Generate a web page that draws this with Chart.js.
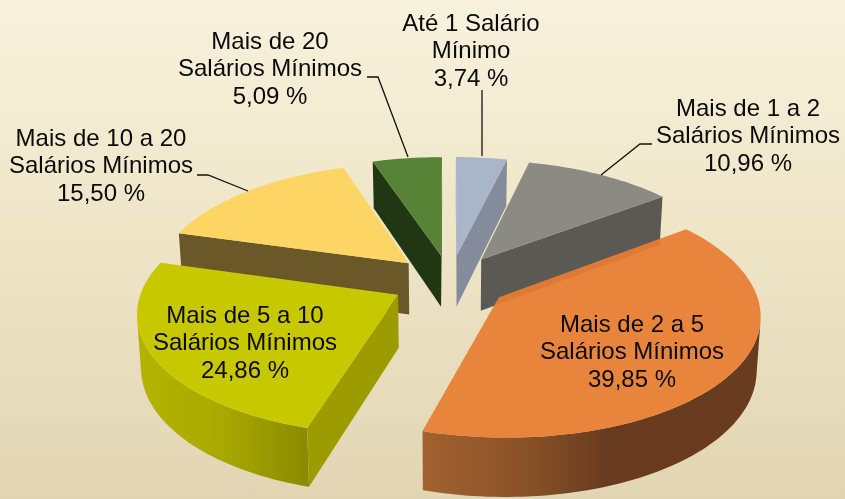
<!DOCTYPE html>
<html><head><meta charset="utf-8">
<style>html,body{margin:0;padding:0;background:#efe6c9}#w{width:845px;height:499px;position:relative;background:linear-gradient(180deg,#f8f1dc 0%,#efe6c8 45%,#e1d5b3 100%)}canvas{display:block}</style>
<script src="https://cdn.jsdelivr.net/npm/chart.js@4"></script>
</head><body><div id="w"><canvas id="c" width="845" height="499"></canvas></div>
<script>
const categories = ["Até 1 Salário Mínimo","Mais de 1 a 2 Salários Mínimos","Mais de 2 a 5 Salários Mínimos","Mais de 5 a 10 Salários Mínimos","Mais de 10 a 20 Salários Mínimos","Mais de 20 Salários Mínimos"];
const values = [3.74,10.96,39.85,24.86,15.50,5.09];
const valueLabels = ["3,74 %","10,96 %","39,85 %","24,86 %","15,50 %","5,09 %"];
const labelLines = [["Até 1 Salário","Mínimo"],["Mais de 1 a 2","Salários Mínimos"],["Mais de 2 a 5","Salários Mínimos"],["Mais de 5 a 10","Salários Mínimos"],["Mais de 10 a 20","Salários Mínimos"],["Mais de 20","Salários Mínimos"]];
const topColors = ["#a9b5c9","#8b8a83","rgba(232,125,50,0.93)","#c8c800","#fcd564","#568335"];
const wallColors = ["#848c9c","#5a5954","#6a3c1f","#9c9c00","#6b5829","#213714"];
const arcStops = [null,null,[["#a3612f",0],["#8a5228",0.3],["#683b1e",0.55],["#6a3c1f",1]],[["#b4b400",0],["#a8a800",0.5],["#8a8a00",1]],null,null];
const labelX = [471,748,632,245,101,270];
const labelY = [24,109,325,316,139,42];
const leaders = [[[482,156],[482,90]],[[601,175],[640,144],[652,144]],null,null,[[248,191],[208,175],[197,175]],[[408,157],[378,77],[367,77]]];
const drawOrder = [5,0,1,4,3,2];

const K=0.463,P=0.131,EXPL=0.23,SCALE=1.168,DEPTH=52.3;
function plot(el){
  const f=el.outerRadius*SCALE,cx=el.x,cy=el.y;
  return (u,v,z)=>{const s=1/(1+P*v);return [cx+f*u*s*(1-0.013*z), cy-f*K*v*s+z*DEPTH/(1+0.105*v)];};
}
function area(q){let a=0;for(let i=0;i<q.length;i++){const b=q[(i+1)%q.length];a+=q[i][0]*b[1]-b[0]*q[i][1];}return a;}
function poly(ctx,pts,fill){ctx.beginPath();pts.forEach((p,i)=>i?ctx.lineTo(p[0],p[1]):ctx.moveTo(p[0],p[1]));ctx.closePath();ctx.fillStyle=fill;ctx.fill();}
const pie3d={id:'pie3d',
 beforeDatasetDraw(chart){
  const ctx=chart.ctx,meta=chart.getDatasetMeta(0);
  drawOrder.forEach(i=>{
   const el=meta.data[i],a0=el.startAngle+Math.PI/2,a1=el.endAngle+Math.PI/2,m=(a0+a1)/2;
   const pr=plot(el),ex=EXPL*Math.sin(m),ey=EXPL*Math.cos(m);
   const pt=(a,z)=>pr(ex+Math.sin(a),ey+Math.cos(a),z),ap=z=>pr(ex,ey,z);
   const N=Math.max(8,Math.ceil((a1-a0)*40)),angs=[];
   for(let j=0;j<=N;j++)angs.push(a0+(a1-a0)*j/N);
   let vis=[];
   for(let j=0;j<N;j++){const q=[pt(angs[j],0),pt(angs[j+1],0),pt(angs[j+1],1),pt(angs[j],1)];if(area(q)<0){if(!vis.length)vis.push(angs[j]);vis.push(angs[j+1]);}}
   if(vis.length){
    const pts=vis.map(a=>pt(a,0)).concat(vis.slice().reverse().map(a=>pt(a,1)));
    const xs=pts.map(p=>p[0]);let fill=wallColors[i];
    if(arcStops[i]){fill=ctx.createLinearGradient(Math.min(...xs),0,Math.max(...xs),0);arcStops[i].forEach(s=>fill.addColorStop(s[1],s[0]));}
    poly(ctx,pts,fill);
   }
   const s=[ap(0),pt(a0,0),pt(a0,1),ap(1)],e=[pt(a1,0),ap(0),ap(1),pt(a1,1)];
   if(area(s)<0)poly(ctx,s,wallColors[i]);
   if(area(e)<0)poly(ctx,e,wallColors[i]);
   poly(ctx,[ap(0)].concat(angs.map(a=>pt(a,0))),topColors[i]);
  });
  return false;
 },
 afterDraw(chart){
  const ctx=chart.ctx;
  ctx.strokeStyle="#111";ctx.lineWidth=1.3;
  leaders.forEach(l=>{if(!l)return;ctx.beginPath();l.forEach((p,i)=>i?ctx.lineTo(p[0],p[1]):ctx.moveTo(p[0],p[1]));ctx.stroke();});
  ctx.fillStyle="#0a0a0a";ctx.font='24px "Liberation Sans"';ctx.textAlign="center";ctx.textBaseline="middle";
  categories.forEach((c,i)=>{labelLines[i].concat(valueLabels[i]).forEach((t,j)=>ctx.fillText(t,labelX[i],labelY[i]+j*27.7));});
 }};
new Chart(document.getElementById('c'),{type:'pie',
 data:{labels:categories,datasets:[{data:values,borderWidth:0}]},
 options:{responsive:false,animation:false,rotation:0,layout:{padding:{left:55,top:64}},
  plugins:{legend:{display:false},tooltip:{enabled:false}}},
 plugins:[pie3d]});
</script></body></html>
